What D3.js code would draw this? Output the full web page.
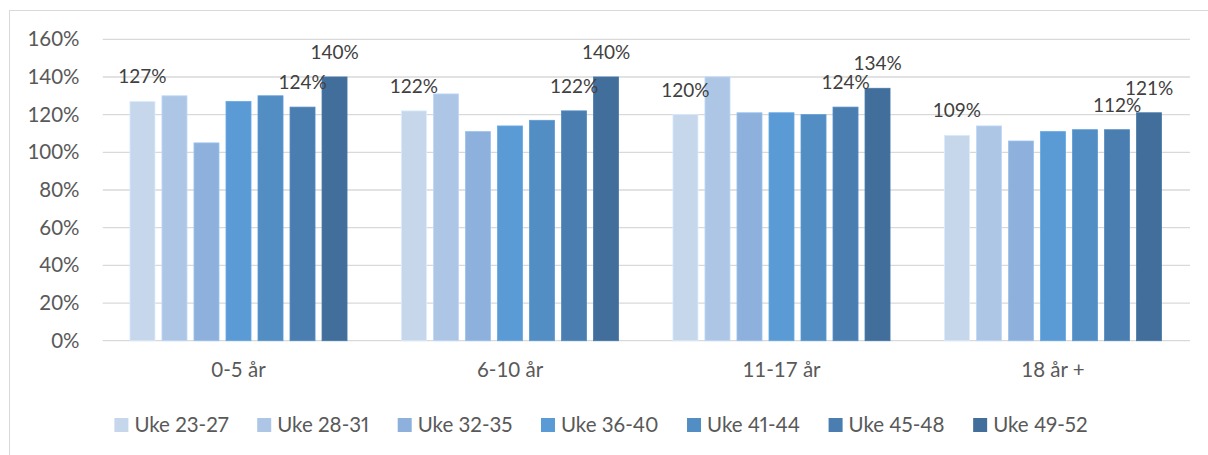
<!DOCTYPE html>
<html>
<head>
<meta charset="utf-8">
<script src="https://cdn.jsdelivr.net/npm/d3@7"></script>
<style>
  html, body { margin: 0; padding: 0; background: #ffffff; }
  svg { display: block; }
  text { font-family: Lato, "Open Sans", "Liberation Sans", sans-serif; }
  .legend text { font-variant-numeric: proportional-nums; font-feature-settings: "pnum" 1; }
</style>
</head>
<body>
<svg id="chart" width="1208" height="455"></svg>
<script>
// Age groups along the x axis
const categories = ["0-5 år", "6-10 år", "11-17 år", "18 år +"];

// Week periods (one bar per period in every age group)
const series = ["Uke 23-27", "Uke 28-31", "Uke 32-35", "Uke 36-40", "Uke 41-44", "Uke 45-48", "Uke 49-52"];

// Values in percent, one entry per age group
const uke23_27 = [127, 122, 120, 109];
const uke28_31 = [130, 131, 140, 114];
const uke32_35 = [105, 111, 121, 106];
const uke36_40 = [127, 114, 121, 111];
const uke41_44 = [130, 117, 120, 112];
const uke45_48 = [124, 122, 124, 112];
const uke49_52 = [140, 140, 134, 121];

// Y axis ticks
const yTicks = [0, 20, 40, 60, 80, 100, 120, 140, 160];

// Series that carry a value label above their bars
const labelledSeries = ["Uke 23-27", "Uke 45-48", "Uke 49-52"];

const values = [uke23_27, uke28_31, uke32_35, uke36_40, uke41_44, uke45_48, uke49_52];
const colors = ["#c6d7ec", "#adc6e5", "#8db1dc", "#5b9bd5", "#528dc4", "#4a7eb1", "#416e9b"];

const svg = d3.select("#chart");

// Outer chart frame
svg.append("rect")
  .attr("x", 9.5).attr("y", 10.5)
  .attr("width", 1220).attr("height", 470)
  .attr("fill", "none").attr("stroke", "#d9d9d9").attr("stroke-width", 1);

const plot = { left: 102.75, right: 1188.75, top: 39.3, bottom: 340.7 };

const x0 = d3.scaleBand().domain(categories).range([plot.left, plot.right]).padding(0);
const x1 = d3.scaleBand().domain(series).range([0, x0.bandwidth()])
  .paddingInner(7 / 32).paddingOuter(0.85);
const y = d3.scaleLinear().domain([0, 160]).range([plot.bottom, plot.top]);

// Gridlines
svg.append("g").selectAll("line").data(yTicks).join("line")
  .attr("x1", plot.left).attr("x2", plot.right + 1.25)
  .attr("y1", d => y(d)).attr("y2", d => y(d))
  .attr("stroke", "#d9d9d9").attr("stroke-width", 1.3);

// Y axis labels
const yAxis = d3.axisLeft(y).tickValues(yTicks).tickFormat(d => d + "%").tickSize(0).tickPadding(0);
const gy = svg.append("g").attr("transform", "translate(79.5,0)").call(yAxis);
gy.select(".domain").remove();
gy.selectAll("text")
  .attr("font-size", 20.5).attr("fill", "#595959")
  .attr("font-family", "Lato, 'Open Sans', sans-serif");

// Category labels
const xAxis = d3.axisBottom(x0).tickSize(0).tickPadding(0);
const gx = svg.append("g").attr("transform", "translate(0,362)").call(xAxis);
gx.select(".domain").remove();
gx.selectAll("text")
  .attr("font-size", 20.5).attr("fill", "#595959")
  .attr("font-family", "Lato, 'Open Sans', sans-serif");

// Bars
const rows = [];
categories.forEach((c, ci) => {
  series.forEach((s, si) => rows.push({ cat: c, ser: s, si, v: values[si][ci] }));
});

svg.append("g").selectAll("rect").data(rows).join("rect")
  .attr("x", d => x0(d.cat) + x1(d.ser))
  .attr("width", x1.bandwidth())
  .attr("y", d => y(d.v))
  .attr("height", d => y(0) - y(d.v))
  .attr("fill", d => colors[d.si])
  .attr("stroke", d => d3.color(colors[d.si]).brighter(0.25))
  .attr("stroke-width", 0.8);

// Value labels
svg.append("g").selectAll("text")
  .data(rows.filter(d => labelledSeries.includes(d.ser))).join("text")
  .attr("x", d => x0(d.cat) + x1(d.ser) + x1.bandwidth() / 2)
  .attr("y", d => y(d.v) - 18)
  .attr("text-anchor", "middle")
  .attr("font-size", 19).attr("fill", "#404040")
  .text(d => d.v + "%");

// Legend: swatch + label, items laid out by their measured widths and centred
const legend = svg.append("g").attr("class", "legend");
const items = legend.selectAll("g").data(series).join("g");
items.append("rect")
  .attr("width", 14).attr("height", 14).attr("y", 418)
  .attr("fill", (d, i) => colors[i]);
items.append("text")
  .attr("x", 20).attr("y", 432)
  .attr("font-size", 20.5).attr("fill", "#595959")
  .text(d => d);
const widths = [];
items.each(function () {
  widths.push(d3.select(this).select("text").node().getComputedTextLength());
});
const spacing = 28.5;
const total = widths.reduce((a, w) => a + 20 + w, 0) + spacing * (widths.length - 1);
let cursor = 601 - total / 2;
items.attr("transform", (d, i) => {
  const x = cursor;
  cursor += 20 + widths[i] + spacing;
  return `translate(${x},0)`;
});
</script>
</body>
</html>
